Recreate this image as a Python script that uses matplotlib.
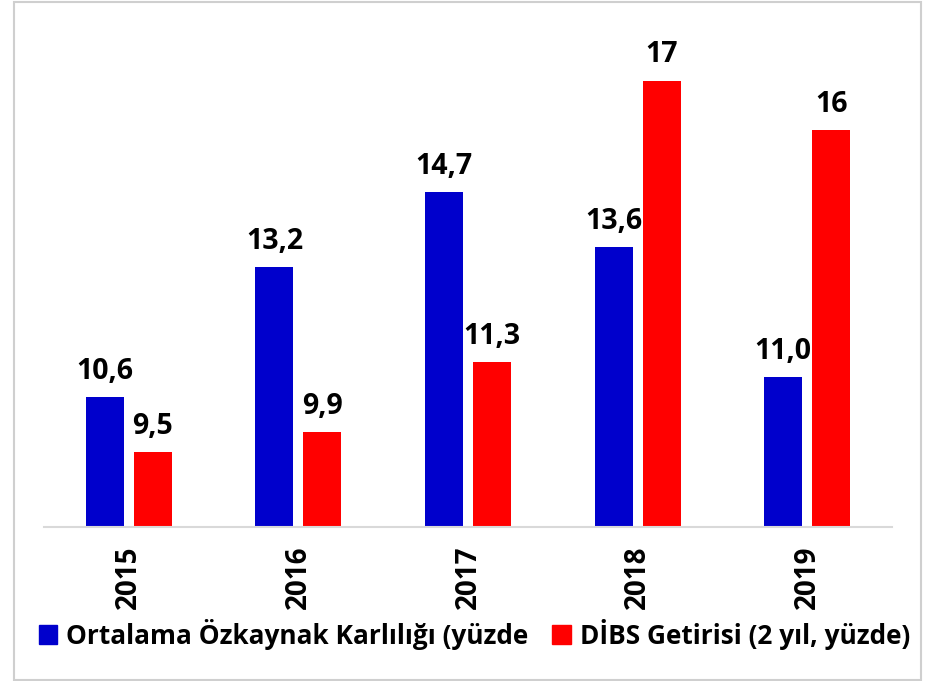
import numpy as np
import matplotlib.pyplot as plt
from matplotlib.patches import Rectangle, Patch

years = ['2015', '2016', '2017', '2018', '2019']
ozkaynak = [10.6, 13.2, 14.7, 13.6, 11.0]
dibs = [9.5, 9.9, 11.3, 16.93, 15.94]
ozkaynak_labels = ['10,6', '13,2', '14,7', '13,6', '11,0']
dibs_labels = ['9,5', '9,9', '11,3', '17', '16']
series_names = ['Ortalama Özkaynak Karlılığı (yüzde', 'DİBS Getirisi (2 yıl, yüzde)']

blue = '#0000CC'
red = '#FF0000'
plt.rcParams['font.family'] = ['Open Sans', 'DejaVu Sans']

fig = plt.figure(figsize=(9.34, 6.81), dpi=100)
ax = fig.add_axes([44 / 934, 1 - 527 / 681, 848 / 934, 500 / 681])

x = np.arange(len(years))
w = 0.224
off = 0.141
b1 = ax.bar(x - off, np.array(ozkaynak) - 8, w, bottom=8, color=blue)
b2 = ax.bar(x + off, np.array(dibs) - 8, w, bottom=8, color=red)

# etiketler
for xi, v, lab in zip(x - off, ozkaynak, ozkaynak_labels):
    ax.annotate(lab, (xi, v), xytext=(0, 8), textcoords='offset points',
                ha='center', va='bottom', fontsize=20.5, fontweight='bold')
for xi, v, lab in zip(x + off, dibs, dibs_labels):
    ax.annotate(lab, (xi, v), xytext=(0, 8), textcoords='offset points',
                ha='center', va='bottom', fontsize=20.5, fontweight='bold')

ax.set_xlim(-0.5, 4.5)
ax.set_ylim(8, 18)
ax.set_yticks([])
ax.set_xticks(x)
ax.set_xticklabels(years, rotation=90, fontsize=20, fontweight='bold')
ax.tick_params(axis='x', length=0, pad=13)
for s in ['top', 'right', 'left']:
    ax.spines[s].set_visible(False)
ax.spines['bottom'].set_color('#d9d9d9')
ax.spines['bottom'].set_linewidth(1.5)

handles = [Patch(color=blue), Patch(color=red)]
leg = fig.legend(handles, series_names, loc='center', bbox_to_anchor=(0.508, 1 - 634 / 681),
                 ncol=2, frameon=False, prop={'size': 18.9, 'weight': 'bold'},
                 handlelength=0.7, handleheight=0.7, handletextpad=0.35, columnspacing=0.9)

# dış çerçeve
fig.patches.append(Rectangle((14 / 934, 1 / 681), 907 / 934, 678 / 681,
                             transform=fig.transFigure, fill=False,
                             edgecolor='#cfcfcf', linewidth=1.5))

fig.savefig('out.png', dpi=100)
